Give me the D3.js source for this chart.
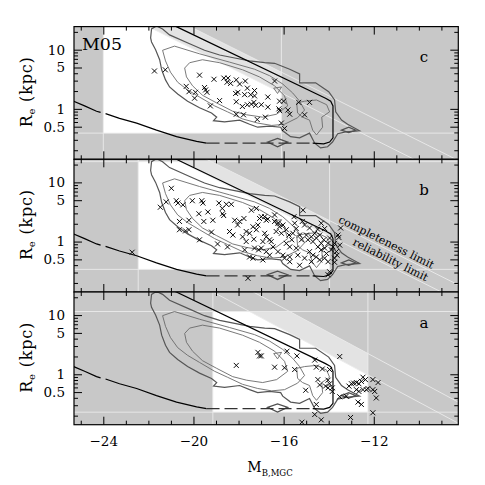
<!DOCTYPE html>
<html>
<head>
<meta charset="utf-8" />
<title>Re vs M_B</title>
<script src="https://d3js.org/d3.v7.min.js"></script>
<style>
  body { margin: 0; background: #fff; }
  text { font-family: "DejaVu Serif", "Liberation Serif", serif; fill: #000; }
</style>
</head>
<body>
<svg id="chart"></svg>
<script>
// panels from top to bottom; sizes are log10 Re (kpc)
var panelNames = ["c", "b", "a"];
var brightLimit = [-24.0, -22.45, -19.14];
var faintLimit = [-16.1, -13.96, -12.26];
var minLogRe = [-0.41, -0.47, -0.64];
var maxLogRe = [null, 1.35, 1.06];
var reliabilityLimit = [
  [[-21.95, 1.38], [-9.96, -0.90]],
  [[-20.53, 1.34], [-9.43, -0.77]],
  [[-17.51, 1.06], [-12.26, -0.01]]
];
var completenessLimit = [
  [[-20.10, 1.38], [-8.26, -0.87]],
  [[-19.15, 1.34], [-8.26, -0.73]],
  [[-15.73, 1.06], [-12.26, 0.35]]
];

var xTicks = d3.range(-25, -8);
var xLabels = [-24, -20, -16, -12];
var reTicks = [0.2, 0.3, 0.4, 0.5, 0.6, 0.7, 0.8, 0.9, 1, 2, 3, 4, 5, 6, 7, 8, 9, 10, 20];
var reLabels = [0.5, 1, 5, 10];

// contours of the reference distribution (same in every panel)
var contourOuter = [[-21.90,1.20],[-21.86,1.35],[-21.64,1.40],[-21.37,1.35],[-21.06,1.25],[-20.17,1.10],[-19.51,0.99],[-18.84,0.91],[-18.17,0.86],[-17.51,0.81],[-16.84,0.78],[-16.40,0.77],[-15.73,0.67],[-15.29,0.59],[-15.29,0.44],[-14.58,0.44],[-14.00,0.29],[-13.74,0.15],[-13.69,-0.05],[-13.43,-0.19],[-13.16,-0.26],[-12.63,-0.37],[-13.25,-0.39],[-13.60,-0.42],[-13.83,-0.56],[-14.05,-0.64],[-14.36,-0.66],[-14.62,-0.58],[-14.85,-0.41],[-15.29,-0.49],[-15.69,-0.47],[-16.04,-0.37],[-16.13,-0.31],[-16.62,-0.29],[-17.15,-0.31],[-17.51,-0.26],[-17.95,-0.19],[-18.62,-0.22],[-19.11,-0.20],[-18.97,-0.14],[-19.20,-0.07],[-19.73,0.02],[-20.26,0.13],[-20.70,0.25],[-21.06,0.37],[-21.24,0.49],[-21.41,0.66],[-21.50,0.83],[-21.68,1.00],[-21.86,1.13]];
var contourMiddle = [[-21.37,0.99],[-20.84,1.06],[-19.73,0.93],[-18.40,0.79],[-17.29,0.67],[-16.62,0.56],[-16.04,0.42],[-15.60,0.27],[-15.29,0.13],[-15.07,-0.02],[-15.38,-0.15],[-15.96,-0.26],[-16.53,-0.28],[-17.15,-0.24],[-17.82,-0.17],[-18.49,-0.05],[-19.06,0.05],[-19.73,0.20],[-20.26,0.32],[-20.70,0.45],[-21.02,0.62],[-21.24,0.81]];
var contourInner = [[-20.39,0.69],[-20.17,0.78],[-19.60,0.83],[-18.84,0.78],[-17.82,0.66],[-17.07,0.54],[-16.40,0.39],[-15.96,0.22],[-15.82,0.05],[-16.31,-0.09],[-16.93,-0.14],[-17.64,-0.10],[-18.26,-0.04],[-18.97,0.10],[-19.60,0.23],[-20.04,0.39],[-20.31,0.54]];
var contourFaint = [[-15.42,0.10],[-15.07,0.13],[-14.54,0.15],[-14.09,0.07],[-13.96,-0.05],[-14.31,-0.14],[-14.27,-0.31],[-14.54,-0.44],[-14.71,-0.36],[-14.85,-0.19],[-15.16,-0.14],[-15.38,-0.07]];
var contourTriangle = [[-16.44,0.35],[-16.09,0.37],[-16.27,0.26]];
var contourDiamondLow = [[-16.71,-0.56],[-16.27,-0.50],[-15.82,-0.56],[-16.27,-0.64]];
var contourDiamondRight = [[-13.43,-0.36],[-13.11,-0.31],[-12.80,-0.36],[-13.11,-0.40]];

// selection boundary
var boundaryLeftA = [[-25.32,0.13],[-24.83,0.05],[-24.30,-0.04],[-24.12,-0.06]];
var boundaryLeftB = [[-23.90,-0.08],[-23.28,-0.16],[-22.52,-0.24],[-21.64,-0.36],[-20.75,-0.47],[-19.86,-0.55],[-19.42,-0.58]];
var boundaryDashed = [[-19.42,-0.58],[-14.71,-0.58]];
var boundaryRight = [[-14.71,-0.58],[-14.22,-0.59],[-13.96,-0.56],[-13.81,-0.49],[-13.81,0.05],[-13.91,0.13],[-14.14,0.18],[-20.76,1.39],[-21.06,1.44]];

var galaxiesC = [[-21.73,0.64],[-21.25,0.66],[-19.73,0.57],[-19.09,0.50],[-18.65,0.52],[-18.47,0.52],[-18.51,0.45],[-18.35,0.43],[-18.10,0.49],[-17.95,0.42],[-17.70,0.47],[-20.32,0.38],[-20.20,0.29],[-19.91,0.28],[-19.51,0.36],[-19.46,0.32],[-19.40,0.28],[-19.95,0.18],[-18.84,0.14],[-19.25,0.05],[-17.61,0.35],[-17.29,0.31],[-18.13,0.26],[-18.03,0.28],[-17.73,0.24],[-17.46,0.24],[-17.29,0.22],[-16.70,0.20],[-16.40,0.47],[-18.10,0.12],[-17.83,0.04],[-17.61,0.07],[-17.43,0.08],[-17.32,0.11],[-17.24,0.06],[-16.99,0.07],[-16.70,0.03],[-16.18,0.13],[-16.00,0.13],[-16.21,0.00],[-16.18,-0.03],[-15.81,-0.02],[-15.73,-0.09],[-15.33,0.11],[-14.85,0.11],[-15.07,-0.10],[-18.10,-0.09],[-17.78,-0.10],[-17.17,-0.18],[-16.81,-0.14],[-16.10,-0.24],[-15.96,-0.33]];
var galaxiesB = [[-22.72,-0.18],[-17.58,-0.62],[-20.98,0.90],[-21.21,0.67],[-21.47,0.58],[-20.76,0.69],[-20.69,0.65],[-20.47,0.62],[-20.05,0.69],[-19.63,0.69],[-19.58,0.65],[-19.36,0.50],[-19.76,0.47],[-18.87,0.65],[-18.72,0.56],[-18.54,0.63],[-18.32,0.63],[-18.71,0.47],[-18.66,0.44],[-20.62,0.34],[-20.20,0.36],[-19.54,0.34],[-19.14,0.36],[-20.62,0.20],[-20.35,0.18],[-20.20,0.20],[-19.73,0.03],[-18.40,0.17],[-18.25,0.11],[-18.17,0.36],[-17.95,0.34],[-17.76,0.39],[-17.43,0.53],[-17.66,0.17],[-17.51,0.14],[-17.36,0.25],[-17.21,0.20],[-17.07,0.39],[-16.84,0.42],[-16.77,0.36],[-17.66,0.00],[-17.32,0.04],[-17.73,-0.14],[-17.29,-0.11],[-17.11,-0.14],[-17.51,-0.26],[-17.36,-0.28],[-16.92,-0.31],[-16.77,0.08],[-16.55,0.00],[-16.40,0.45],[-15.96,-0.28],[-15.54,0.42],[-17.21,0.56],[-16.99,0.42],[-16.70,0.38],[-16.40,0.34],[-16.25,0.31],[-16.18,0.25],[-16.03,0.28],[-16.33,0.17],[-16.10,0.14],[-15.88,0.20],[-15.76,0.11],[-15.59,0.14],[-15.44,0.22],[-15.29,0.11],[-15.21,0.03],[-15.07,0.28],[-15.17,0.34],[-14.99,0.11],[-14.92,0.03],[-14.77,0.08],[-14.70,0.00],[-14.62,0.14],[-14.55,0.06],[-14.40,0.11],[-14.33,-0.03],[-14.22,0.03],[-14.48,-0.09],[-14.33,-0.14],[-14.18,-0.11],[-14.10,-0.20],[-14.03,-0.03],[-13.96,0.06],[-13.88,-0.14],[-13.81,-0.09],[-13.74,-0.03],[-13.66,-0.17],[-13.63,-0.23],[-13.59,0.11],[-14.85,-0.17],[-14.70,-0.23],[-14.55,-0.26],[-14.18,-0.28],[-14.03,-0.34],[-13.74,-0.28],[-13.96,-0.51],[-15.88,-0.03],[-15.73,-0.09],[-15.44,-0.11],[-15.37,-0.23],[-15.07,-0.28],[-14.77,-0.34],[-15.73,-0.34],[-15.29,-0.40],[-17.14,0.28],[-16.84,0.14],[-16.62,0.03],[-16.92,0.00],[-16.47,-0.09],[-16.25,-0.17],[-16.03,-0.23],[-16.77,-0.17],[-16.62,-0.23],[-16.99,-0.11],[-15.14,0.53],[-14.33,0.31],[-14.18,0.22],[-13.55,0.07],[-14.03,-0.56],[-15.73,-0.26],[-14.40,-0.31],[-13.74,-0.35],[-13.51,-0.06],[-13.47,0.23],[-15.51,0.31],[-14.85,0.23],[-14.49,0.21],[-15.64,0.03],[-19.20,0.16],[-18.93,-0.04],[-18.49,-0.09],[-18.04,0.28],[-17.82,0.08]];
var galaxiesA = [[-18.10,0.15],[-17.14,0.37],[-17.07,0.31],[-16.99,0.31],[-16.40,0.12],[-15.96,0.11],[-15.85,0.39],[-15.41,0.31],[-15.51,0.08],[-14.62,0.24],[-14.55,0.12],[-14.28,0.09],[-13.96,0.08],[-13.51,0.30],[-14.48,-0.09],[-14.40,-0.18],[-14.03,-0.10],[-13.96,-0.16],[-14.14,-0.20],[-14.03,-0.23],[-13.84,-0.23],[-13.84,-0.29],[-15.02,-0.27],[-14.55,-0.51],[-14.62,-0.68],[-14.33,-0.77],[-15.19,-0.81],[-13.51,-0.38],[-13.22,-0.37],[-12.99,-0.16],[-12.89,-0.15],[-12.77,-0.14],[-12.66,-0.16],[-12.55,-0.12],[-13.10,-0.20],[-12.77,-0.26],[-12.66,-0.29],[-12.48,-0.05],[-12.37,-0.09],[-12.48,-0.26],[-12.33,-0.26],[-12.26,-0.24],[-12.04,-0.26],[-11.96,-0.29],[-12.04,-0.09],[-11.81,-0.14],[-11.89,-0.40],[-12.70,-0.47],[-12.55,-0.51],[-12.04,-0.65],[-13.03,-0.73]];
var galaxies = [galaxiesC, galaxiesB, galaxiesA];

var width = 485, height = 485;
var plotLeft = 74, plotRight = 458.3, plotTop = 26.6;
var panelHeight = 132.7;
var serif = "DejaVu Serif, Liberation Serif, serif";

var svg = d3.select("#chart").attr("width", width).attr("height", height);
var defs = svg.append("defs");

var x = d3.scaleLinear().domain([-25.3, -8.25]).range([plotLeft, plotRight]);

function lineEnds(seg, y, xa, xb) {
  var x1 = x(seg[0][0]), y1 = y(seg[0][1]), x2 = x(seg[1][0]), y2 = y(seg[1][1]);
  var s = (y2 - y1) / (x2 - x1);
  return [[xa, y1 + s * (xa - x1)], [xb, y1 + s * (xb - x1)]];
}
function belowLine(seg, y) {
  var e = lineEnds(seg, y, -100, width + 100);
  return [e[0], e[1], [width + 100, height + 1000], [-100, height + 1000]];
}

panelNames.forEach(function(name, i) {
  var top = plotTop + i * panelHeight;
  var bottom = top + panelHeight;
  var y = d3.scaleLinear().domain([-0.852, 1.39]).range([bottom, top]);
  var line = d3.line().x(function(d) { return x(d[0]); }).y(function(d) { return y(d[1]); });

  defs.append("clipPath").attr("id", "panel" + i).append("rect")
    .attr("x", plotLeft).attr("y", top).attr("width", plotRight - plotLeft).attr("height", panelHeight);
  defs.append("clipPath").attr("id", "comp" + i).append("polygon")
    .attr("points", belowLine(completenessLimit[i], y).map(function(p) { return p.join(","); }).join(" "));
  defs.append("clipPath").attr("id", "rel" + i).append("polygon")
    .attr("points", belowLine(reliabilityLimit[i], y).map(function(p) { return p.join(","); }).join(" "));

  var g = svg.append("g").attr("clip-path", "url(#panel" + i + ")");

  g.append("rect").attr("x", plotLeft).attr("y", top)
    .attr("width", plotRight - plotLeft).attr("height", panelHeight).attr("fill", "#c8c8c8");

  var boxTop = maxLogRe[i] === null ? top : y(maxLogRe[i]);
  var box = {x: x(brightLimit[i]), y: boxTop, w: x(faintLimit[i]) - x(brightLimit[i]), h: y(minLogRe[i]) - boxTop};
  g.append("rect").attr("x", box.x).attr("y", box.y).attr("width", box.w).attr("height", box.h)
    .attr("fill", "#e3e3e3").attr("clip-path", "url(#comp" + i + ")");
  g.append("rect").attr("x", box.x).attr("y", box.y).attr("width", box.w).attr("height", box.h)
    .attr("fill", "#ffffff").attr("clip-path", "url(#rel" + i + ")");

  // thin limit lines across the panel
  var thin = g.append("g").attr("stroke", "#ebebeb").attr("stroke-width", 0.9).attr("fill", "none");
  [brightLimit[i], faintLimit[i]].forEach(function(m) {
    thin.append("line").attr("x1", x(m)).attr("x2", x(m)).attr("y1", top).attr("y2", bottom);
  });
  [minLogRe[i], maxLogRe[i]].forEach(function(r) {
    if (r === null) return;
    thin.append("line").attr("x1", plotLeft).attr("x2", plotRight).attr("y1", y(r)).attr("y2", y(r));
  });
  [reliabilityLimit[i], completenessLimit[i]].forEach(function(seg) {
    var e = lineEnds(seg, y, plotLeft, plotRight);
    thin.append("line").attr("x1", e[0][0]).attr("y1", e[0][1]).attr("x2", e[1][0]).attr("y2", e[1][1]);
  });

  // contours
  g.append("path").attr("d", line(contourOuter) + "Z").attr("fill", "none").attr("stroke", "#555").attr("stroke-width", 1.2);
  [contourMiddle, contourInner, contourFaint, contourTriangle].forEach(function(c) {
    g.append("path").attr("d", line(c) + "Z").attr("fill", "none").attr("stroke", "#6a6a6a").attr("stroke-width", 0.9);
  });
  [contourDiamondLow, contourDiamondRight].forEach(function(c) {
    g.append("path").attr("d", line(c) + "Z").attr("fill", "none").attr("stroke", "#505050").attr("stroke-width", 1.3);
  });

  // boundary
  [boundaryLeftA, boundaryLeftB, boundaryRight].forEach(function(b) {
    g.append("path").attr("d", line(b)).attr("fill", "none").attr("stroke", "#000").attr("stroke-width", 1.2);
  });
  g.append("path").attr("d", line(boundaryDashed)).attr("fill", "none")
    .attr("stroke", "#333").attr("stroke-width", 1.3).attr("stroke-dasharray", "13,5");

  // galaxies
  var s = 2.5;
  g.append("g").selectAll("path").data(galaxies[i]).enter().append("path")
    .attr("d", function(d) {
      var px = x(d[0]), py = y(d[1]);
      return "M" + (px - s) + "," + (py - s) + "L" + (px + s) + "," + (py + s) +
             "M" + (px - s) + "," + (py + s) + "L" + (px + s) + "," + (py - s);
    })
    .attr("stroke", "#000").attr("stroke-width", 0.95);

  // frame and ticks
  svg.append("rect").attr("x", plotLeft).attr("y", top).attr("width", plotRight - plotLeft)
    .attr("height", panelHeight).attr("fill", "none").attr("stroke", "#000").attr("stroke-width", 1.2);

  var xMajor = xTicks.filter(function(v) { return v % 4 === 0; });
  var xMinor = xTicks.filter(function(v) { return v % 4 !== 0; });
  var yMajor = reLabels.map(Math.log10);
  var yMinor = reTicks.filter(function(v) { return reLabels.indexOf(v) < 0; }).map(Math.log10);

  function addAxis(axis, tx, ty) {
    var a = svg.append("g").attr("transform", "translate(" + tx + "," + ty + ")").call(axis);
    a.select(".domain").remove();
    a.selectAll("line").attr("stroke", "#000").attr("stroke-width", 1);
    return a;
  }
  [[xMajor, 8], [xMinor, 4]].forEach(function(t) {
    addAxis(d3.axisBottom(x).tickValues(t[0]).tickSize(-t[1]).tickFormat(""), 0, bottom);
    addAxis(d3.axisTop(x).tickValues(t[0]).tickSize(-t[1]).tickFormat(""), 0, top);
  });
  [[yMajor, 8], [yMinor, 4]].forEach(function(t) {
    addAxis(d3.axisLeft(y).tickValues(t[0]).tickSize(-t[1]).tickFormat(""), plotLeft, 0);
    addAxis(d3.axisRight(y).tickValues(t[0]).tickSize(-t[1]).tickFormat(""), plotRight, 0);
  });

  var yl = addAxis(d3.axisLeft(y).tickValues(yMajor).tickSize(0).tickPadding(9)
    .tickFormat(function(d) { return String(+Math.pow(10, d).toFixed(1)); }), plotLeft, 0);
  yl.selectAll("text").attr("font-family", serif).attr("font-size", 13.5).attr("fill", "#000");

  if (i === panelNames.length - 1) {
    var xl = addAxis(d3.axisBottom(x).tickValues(xLabels).tickSize(0).tickPadding(12)
      .tickFormat(function(d) { return "\u2212" + Math.abs(d); }), 0, bottom);
    xl.selectAll("text").attr("font-family", serif).attr("font-size", 13.5).attr("fill", "#000");
  }

  // panel letter
  svg.append("text").attr("x", 424).attr("y", top + 35.5).attr("text-anchor", "middle")
    .attr("font-size", 15).text(name);

  // y label
  var lab = svg.append("text").attr("text-anchor", "middle").attr("font-size", 16).attr("letter-spacing", 0.8)
    .attr("transform", "translate(32," + (top + panelHeight / 2 - 1) + ") rotate(-90)");
  lab.append("tspan").text("R");
  lab.append("tspan").attr("font-size", 10).attr("dy", 3).text("e");
  lab.append("tspan").attr("dy", -3).text(" (kpc)");

  if (name === "b") {
    [[completenessLimit[i], -11.56, "completeness limit"], [reliabilityLimit[i], -11.38, "reliability limit"]].forEach(function(t) {
      var e = lineEnds(t[0], y, x(t[1]) - 10, x(t[1]) + 10);
      var ang = Math.atan2(e[1][1] - e[0][1], 20) * 180 / Math.PI;
      svg.append("text").attr("font-size", 11).attr("text-anchor", "middle")
        .attr("transform", "translate(" + x(t[1]) + "," + ((e[0][1] + e[1][1]) / 2) + ") rotate(" + ang + ")")
        .attr("y", -2.5).text(t[2]);
    });
  }
});

svg.append("text").attr("x", 82).attr("y", 50).attr("font-size", 17)
  .attr("textLength", 40).attr("lengthAdjust", "spacingAndGlyphs").text("M05");

var xt = svg.append("text").attr("x", 270).attr("y", 471.5).attr("text-anchor", "middle").attr("font-size", 14);
xt.append("tspan").text("M");
xt.append("tspan").attr("font-size", 8.5).attr("dy", 4).text("B,MGC");
</script>
</body>
</html>
